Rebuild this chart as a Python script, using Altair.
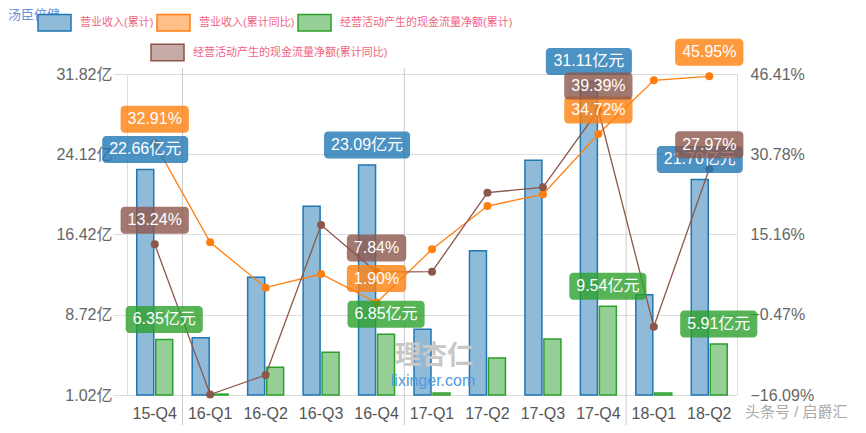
import altair as alt
import pandas as pd

# ---------------- data ----------------
cats = ["15-Q4", "16-Q1", "16-Q2", "16-Q3", "16-Q4", "17-Q1",
        "17-Q2", "17-Q3", "17-Q4", "18-Q1", "18-Q2"]
revenue = [22.66, 6.52, 12.31, 19.12, 23.09, 7.32, 14.87, 23.54, 31.11, 10.65, 21.70]
revenue_yoy = [32.91, 13.64, 4.81, 7.47, 1.90, 12.28, 20.71, 22.98, 34.72, 45.18, 45.95]
cash = [6.35, 1.10, 3.68, 5.12, 6.85, 1.20, 4.57, 6.39, 9.54, 1.20, 5.91]
cash_yoy = [13.24, -16.0, -12.2, 17.01, 7.84, 7.92, 23.3, 24.35, 39.39, -2.79, 27.97]
label_cats = ["15-Q4", "16-Q4", "17-Q4", "18-Q2"]
year_starts = ["16-Q1", "17-Q1", "18-Q1"]
left_ticks = [1.02, 8.72, 16.42, 24.12, 31.82]
right_ticks = [-16.09, -0.47, 15.16, 30.78, 46.41]

S_REV = "营业收入(累计)"
S_REV_YOY = "营业收入(累计同比)"
S_CASH = "经营活动产生的现金流量净额(累计)"
S_CASH_YOY = "经营活动产生的现金流量净额(累计同比)"

FULL = {S_REV: "#1f77b4", S_REV_YOY: "#ff7f0e", S_CASH: "#2ca02c", S_CASH_YOY: "#8c564b"}
LIGHT = {S_REV: "#8fbbd9", S_REV_YOY: "#ffbf86", S_CASH: "#95cf95", S_CASH_YOY: "#c5aaa5"}

FONT = "Liberation Sans, Noto Sans CJK SC, sans-serif"
W, H = 610, 321


def text_w(s):
    w = 0
    for ch in s:
        if ord(ch) > 0x2E80:
            w += 16
        else:
            w += {".": 4.45, "%": 14.2, "-": 5.33}.get(ch, 8.9)
    return w + 14


def series_df(name, vals):
    return pd.DataFrame({"cat": cats, "series": name, "value": vals})


df_rev = series_df(S_REV, revenue)
df_cash = series_df(S_CASH, cash)
df_bars = pd.concat([df_rev, df_cash], ignore_index=True)
df_ryoy = series_df(S_REV_YOY, revenue_yoy)
df_cyoy = series_df(S_CASH_YOY, cash_yoy)


def label_df(df, unit):
    d = df[df["cat"].isin(label_cats)].copy()
    d["text"] = [f"{v:.2f}{unit}" for v in d["value"]]
    d["w"] = [text_w(t) for t in d["text"]]
    return d


lab_rev = label_df(df_rev, "亿元")
lab_cash = label_df(df_cash, "亿元")
lab_ryoy = label_df(df_ryoy, "%")
lab_cyoy = label_df(df_cyoy, "%")

# ---------------- encodings ----------------
X_AXIS = alt.Axis(labelFontSize=16, labelColor="#555", labelFont=FONT, ticks=False,
                  domain=False, labelPadding=10, labelAngle=0, grid=False)


def X(**kw):
    return alt.X("cat:N", title=None,
                 scale=alt.Scale(domain=cats, paddingInner=0, paddingOuter=0),
                 axis=X_AXIS, **kw)


XOFF = alt.XOffset("series:N",
                   scale=alt.Scale(domain=[S_REV, S_CASH], paddingInner=0.105, paddingOuter=0.513))


def YL(show=False):
    axis = alt.Axis(values=left_ticks, labelExpr="format(datum.value, '.2f') + '亿'",
                    labelFontSize=16, labelColor="#666", labelFont=FONT,
                    tickSize=14, tickColor="#dddddd", labelPadding=1,
                    domainColor="#dddddd", gridColor="#dddddd", grid=True) if show else None
    return alt.Y("value:Q", title=None,
                 scale=alt.Scale(domain=[1.02, 31.82], nice=False, zero=False), axis=axis)


def YR(show=False):
    axis = alt.Axis(orient="right", values=right_ticks,
                    labelExpr="format(datum.value, '.2f') + '%'",
                    labelFontSize=16, labelColor="#666", labelFont=FONT,
                    ticks=False, labelPadding=13, domainColor="#dddddd", grid=False) if show else None
    return alt.Y("value:Q", title=None,
                 scale=alt.Scale(domain=[-16.09, 46.41], nice=False, zero=False), axis=axis)


PATH = "M-1,-0.5H1V0.5H-1Z"
leg_common = dict(title=None, orient="none", direction="horizontal", symbolType=PATH,
                  symbolSize=1089, symbolStrokeWidth=1.5, labelFont=FONT, labelFontSize=11,
                  labelColor="#f06485", labelOffset=8, columnPadding=0, labelLimit=400,
                  padding=0)
legA = alt.Legend(legendX=-90, legendY=-69, columns=3, **leg_common)
legB = alt.Legend(legendX=23, legendY=-39, columns=1,
                  symbolStrokeColor=FULL[S_CASH_YOY], **leg_common)

A_dom = [S_REV, S_REV_YOY, S_CASH]
FILL = alt.Fill("series:N", scale=alt.Scale(domain=A_dom, range=[LIGHT[s] for s in A_dom]),
                legend=legA)
STROKE = alt.Stroke("series:N", scale=alt.Scale(domain=A_dom, range=[FULL[s] for s in A_dom]),
                    legend=legA)
COLOR_B = alt.Color("series:N", scale=alt.Scale(domain=[S_CASH_YOY], range=[LIGHT[S_CASH_YOY]]),
                    legend=legB)

# ---------------- layers ----------------
vgrid = alt.Chart(pd.DataFrame({"cat": year_starts})).mark_rule(color="#cccccc", strokeWidth=1).encode(
    x=X(bandPosition=0), y=alt.value(-6), y2=alt.value(H + 33))

bars = alt.Chart(df_bars).mark_bar(strokeWidth=1.5).encode(
    x=X(), xOffset=XOFF, y=YL(True), y2=alt.datum(1.02), fill=FILL, stroke=STROKE)

orange_line = alt.Chart(df_ryoy).mark_line(strokeWidth=1.3).encode(
    x=X(), y=YR(True), stroke=STROKE)
orange_pts = alt.Chart(df_ryoy).mark_circle(size=64, opacity=1, color=FULL[S_REV_YOY]).encode(
    x=X(), y=YR())
brown_line = alt.Chart(df_cyoy).mark_line(strokeWidth=1.3, color=FULL[S_CASH_YOY]).encode(
    x=X(), y=YR())
brown_pts = alt.Chart(df_cyoy).mark_circle(size=64, opacity=1, color=FULL[S_CASH_YOY]).encode(
    x=X(), y=YR())
# carrier of the legend entry for the brown series (draws nothing itself)
brown_legend = alt.Chart(df_cyoy).transform_filter("false").mark_bar().encode(
    x=X(), y=YR(), color=COLOR_B)


def bar_label(d, s):
    box = alt.Chart(d).mark_bar(cornerRadius=4, opacity=0.8, fill=FULL[s],
                                yOffset=-33.5, y2Offset=-6.5).encode(
        x=X(), xOffset=XOFF, y=YL(), y2="value:Q", size=alt.Size("w:Q", scale=None))
    txt = alt.Chart(d).mark_text(dy=-20, color="white", fontSize=16, font=FONT,
                                 baseline="middle").encode(
        x=X(), xOffset=XOFF, y=YL(), text="text:N")
    return [box, txt]


def line_label(d, s):
    box = alt.Chart(d).mark_bar(cornerRadius=4, opacity=0.8, fill=FULL[s],
                                yOffset=-37.5, y2Offset=-10.5).encode(
        x=X(), y=YR(), y2="value:Q", size=alt.Size("w:Q", scale=None))
    txt = alt.Chart(d).mark_text(dy=-24, color="white", fontSize=16, font=FONT,
                                 baseline="middle").encode(
        x=X(), y=YR(), text="text:N")
    return [box, txt]


one = pd.DataFrame({"k": [0]})
deco = [
    alt.Chart(one).mark_text(text="汤臣倍健", color="#6d8fdc", fontSize=13, font=FONT,
                             align="left", baseline="middle").encode(
        x=alt.value(-119), y=alt.value(-59)),
    alt.Chart(one).mark_text(text="理杏仁", color="#c8c8c8", fontSize=26, font=FONT,
                             fontWeight="bold", baseline="middle").encode(
        x=alt.value(307), y=alt.value(282)),
    alt.Chart(one).mark_text(text="lixinger.com", color="#4f9be0", fontSize=16, font=FONT,
                             baseline="middle").encode(
        x=alt.value(306), y=alt.value(307)),
    alt.Chart(one).mark_text(text="头条号 / 启爵汇", color="#aaaaaa", fontSize=15, font=FONT,
                             align="left", baseline="middle").encode(
        x=alt.value(618), y=alt.value(338)),
]

layers = [vgrid, bars, orange_line, orange_pts, brown_line, brown_pts, brown_legend]
layers += deco[1:3]
layers += bar_label(lab_rev, S_REV)
layers += line_label(lab_ryoy, S_REV_YOY)
layers += bar_label(lab_cash, S_CASH)
layers += line_label(lab_cyoy, S_CASH_YOY)
layers += [deco[0], deco[3]]

chart = alt.layer(*layers).resolve_scale(y="independent").properties(
    width=W, height=H,
    autosize=alt.AutoSizeParams(type="none"),
    padding={"left": 119, "top": 66, "right": 121, "bottom": 30},
).configure_view(stroke=None)

chart.save("out.html", embed_options={"renderer": "svg", "actions": False})
